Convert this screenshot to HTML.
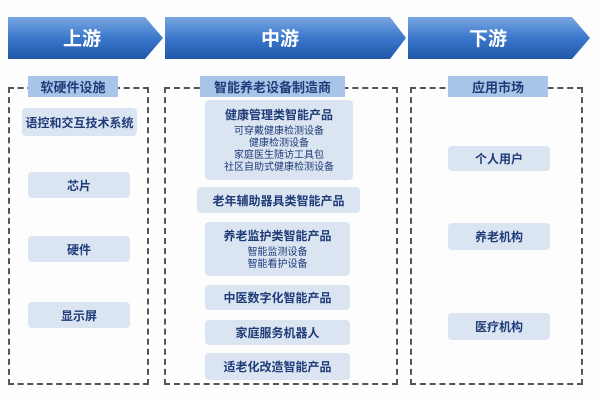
<!DOCTYPE html>
<html><head><meta charset="utf-8"><style>
body{margin:0;width:600px;height:400px;background:#fdfdfd;font-family:"Liberation Sans","Noto Sans CJK SC",sans-serif;position:relative;overflow:hidden}
.b{position:absolute;background:#dbe5f2;border-radius:4px;color:#1f3c78;font-weight:bold;font-size:12px;text-align:center;display:flex;align-items:center;justify-content:center}
.h{position:absolute;background:#a8c4e8;color:#1f3c78;font-weight:bold;font-size:13px;display:flex;align-items:center;justify-content:center}
.d{position:absolute;border:2px dashed #555;}
.sub{font-weight:normal;font-size:10px;line-height:12px}
</style></head><body>
<svg width="600" height="80" style="position:absolute;left:0;top:0">
<defs><linearGradient id="g" x1="0" y1="0" x2="0" y2="1"><stop offset="0" stop-color="#7aa6e0"/><stop offset="0.5" stop-color="#3a78cc"/><stop offset="1" stop-color="#2257a8"/></linearGradient></defs>
<polygon points="8,17 145,17 163,38 145,59 8,59" fill="url(#g)"/>
<polygon points="165,17 390,17 406,38 390,59 165,59" fill="url(#g)"/>
<polygon points="408,17 572,17 590,38 572,59 408,59" fill="url(#g)"/>
<g fill="#fff" font-size="19" font-weight="bold" text-anchor="middle" font-family="Liberation Sans,Noto Sans CJK SC,sans-serif">
<text x="82" y="45">上游</text><text x="280" y="45">中游</text><text x="488" y="45">下游</text></g>
</svg>
<div class="d" style="left:8px;top:87px;width:137px;height:294px"></div>
<div class="d" style="left:164px;top:87px;width:230px;height:294px"></div>
<div class="d" style="left:410px;top:87px;width:169px;height:294px"></div>
<div class="h" style="left:28px;top:76px;width:90px;height:21px">软硬件设施</div>
<div class="h" style="left:200px;top:76px;width:145px;height:21px">智能养老设备制造商</div>
<div class="h" style="left:448px;top:76px;width:100px;height:21px">应用市场</div>
<div class="b" style="left:22px;top:108px;width:115px;height:28px">语控和交互技术系统</div>
<div class="b" style="left:28px;top:172px;width:102px;height:26px">芯片</div>
<div class="b" style="left:28px;top:236px;width:102px;height:26px">硬件</div>
<div class="b" style="left:28px;top:302px;width:102px;height:26px">显示屏</div>
<div class="b" style="left:205px;top:100px;width:148px;height:80px;flex-direction:column"><div style="margin-bottom:3px">健康管理类智能产品</div><div class="sub">可穿戴健康检测设备<br>健康检测设备<br>家庭医生随访工具包<br>社区自助式健康检测设备</div></div>
<div class="b" style="left:197px;top:187px;width:163px;height:26px">老年辅助器具类智能产品</div>
<div class="b" style="left:205px;top:222px;width:145px;height:54px;flex-direction:column"><div style="margin-bottom:3px">养老监护类智能产品</div><div class="sub">智能监测设备<br>智能看护设备</div></div>
<div class="b" style="left:205px;top:285px;width:145px;height:25px">中医数字化智能产品</div>
<div class="b" style="left:205px;top:320px;width:145px;height:25px">家庭服务机器人</div>
<div class="b" style="left:205px;top:353px;width:145px;height:27px">适老化改造智能产品</div>
<div class="b" style="left:448px;top:146px;width:102px;height:25px">个人用户</div>
<div class="b" style="left:448px;top:223px;width:102px;height:27px">养老机构</div>
<div class="b" style="left:448px;top:313px;width:102px;height:27px">医疗机构</div>
</body></html>
